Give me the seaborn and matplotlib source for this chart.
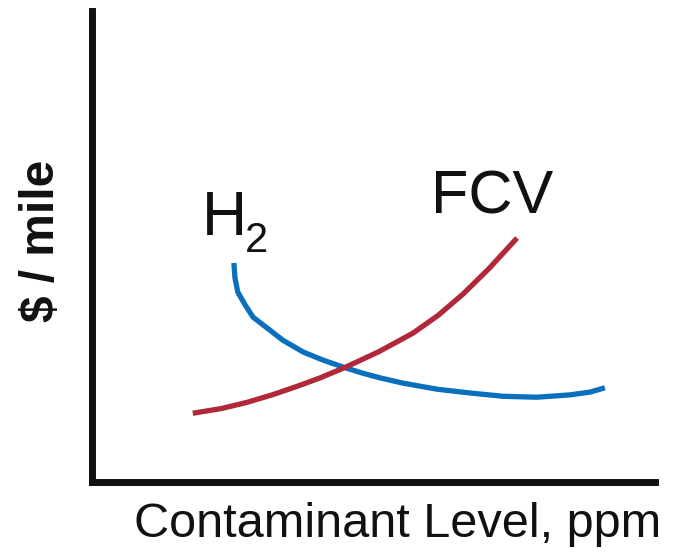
import matplotlib
matplotlib.use("Agg")
import matplotlib.pyplot as plt
import seaborn as sns
import pandas as pd

# Conceptual curves (x: contaminant level, y: $/mile)
h2_x = [2.52, 2.54, 2.59, 2.72, 2.86, 3.11, 3.39, 3.75, 4.10, 4.46, 4.81, 5.12, 5.52, 6.13, 6.71, 7.30, 7.90, 8.49, 8.85, 9.11]
h2_y = [4.65, 4.33, 4.03, 3.76, 3.50, 3.27, 3.01, 2.76, 2.59, 2.44, 2.31, 2.21, 2.10, 1.97, 1.89, 1.82, 1.80, 1.85, 1.91, 2.00]
fcv_x = [1.79, 2.30, 2.75, 3.20, 3.64, 4.05, 4.49, 5.10, 5.70, 6.15, 6.59, 7.05, 7.55]
fcv_y = [1.46, 1.56, 1.69, 1.85, 2.03, 2.21, 2.43, 2.77, 3.16, 3.54, 3.99, 4.53, 5.18]

x_label = "Contaminant Level, ppm"
y_label = "$ / mile"

sns.set_theme(style="white")
plt.rcParams["font.family"] = ["Liberation Sans", "DejaVu Sans"]

fig = plt.figure(figsize=(6.81, 5.57), dpi=100)
W, H = 681, 557
ax = fig.add_axes([92 / W, (H - 482) / H, (655 - 92) / W, (482 - 11) / H])

df_h2 = pd.DataFrame({"x": h2_x, "y": h2_y})
df_fcv = pd.DataFrame({"x": fcv_x, "y": fcv_y})
sns.lineplot(data=df_h2, x="x", y="y", ax=ax, color="#0A70BE", linewidth=3.8, sort=False)
sns.lineplot(data=df_fcv, x="x", y="y", ax=ax, color="#B0283A", linewidth=3.8, sort=False)
for ln in ax.lines:
    ln.set_solid_joinstyle("round")
    ln.set_solid_capstyle("butt")

ax.set_xlim(0, 10)
ax.set_ylim(0, 10)
ax.set_xticks([])
ax.set_yticks([])
ax.set_xlabel("")
ax.set_ylabel("")
for s in ["top", "right"]:
    ax.spines[s].set_visible(False)
for s in ["left", "bottom"]:
    ax.spines[s].set_linewidth(5.0)
    ax.spines[s].set_color("#111111")
    ax.spines[s].set_capstyle("projecting")

tc = "#111111"
fig.text(398 / W, 1 - 537 / H, x_label, ha="center", va="baseline", fontsize=35, color=tc)
fig.text(41 / W, 1 - 241 / H, y_label, ha="center", va="center", rotation=90,
         fontsize=34.5, fontweight="bold", color=tc)

fig.text(202 / W, 1 - 235 / H, "H", ha="left", va="baseline", fontsize=45, color=tc)
fig.text(245 / W, 1 - 252 / H, "2", ha="left", va="baseline", fontsize=30, color=tc)
fig.text(431 / W, 1 - 213 / H, "FCV", ha="left", va="baseline", fontsize=44, color=tc)

fig.savefig("out.png", dpi=100)
